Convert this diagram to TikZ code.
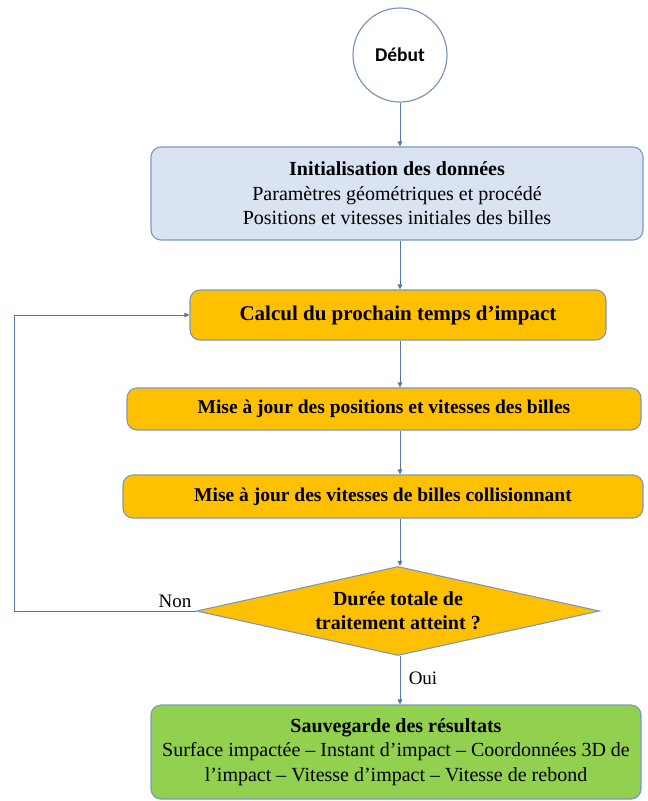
\documentclass[tikz,border=0pt]{standalone}
\usepackage{fontspec}
\setmainfont{Liberation Serif}
\newfontfamily\calib{Carlito}
\usetikzlibrary{shapes.geometric,arrows.meta}
\definecolor{lineblue}{HTML}{5577A8}
\definecolor{boxedge}{HTML}{7C98C0}
\definecolor{initfill}{HTML}{DAE3F1}
\definecolor{orangefill}{HTML}{FFC000}
\definecolor{greenfill}{HTML}{92D050}
\tikzset{
  arr/.style={draw=lineblue, line width=1pt, -{Triangle[length=5pt,width=4.5pt]}},
  box/.style={draw=boxedge, line width=1.1pt, rounded corners=10pt, align=center, inner sep=0pt},
  txt/.style={font=\fontsize{20}{24.5}\selectfont},
  lbl/.style={font=\fontsize{19}{22}\selectfont, inner sep=0pt}
}
\begin{document}
\begin{tikzpicture}[x=1pt,y=-1pt]
\useasboundingbox (0,0) rectangle (648,801);
\node[circle, draw=boxedge, line width=1.2pt, minimum size=94pt, fill=white,
      font=\calib\bfseries\fontsize{19.5}{22}\selectfont] (debut) at (400,55) {Début};
\node[box, fill=initfill, minimum width=492pt, minimum height=93pt, txt] (init) at (397,193.5)
  {\textbf{Initialisation\ des\ données}\\Paramètres\ géométriques\ et\ procédé\\Positions\ et\ vitesses\ initiales\ des\ billes};
\node[box, fill=orangefill, minimum width=416pt, minimum height=50pt,
      font=\bfseries\fontsize{21}{24}\selectfont] (calc) at (398,315) {Calcul du prochain temps d’impact};
\node[box, fill=orangefill, minimum width=514pt, minimum height=42pt,
      font=\bfseries\fontsize{19.5}{24}\selectfont] (maj1) at (384,409) {Mise à jour des positions et vitesses des billes};
\node[box, fill=orangefill, minimum width=520pt, minimum height=43pt,
      font=\bfseries\fontsize{19.5}{24}\selectfont] (maj2) at (383,496.5) {Mise à jour des vitesses de billes collisionnant};
\node[diamond, draw=boxedge, line width=1.1pt, fill=orangefill, aspect=4.5, inner sep=0pt,
      minimum width=403pt, minimum height=89pt, align=center,
      font=\bfseries\fontsize{20}{24}\selectfont] (test) at (398,611) {Durée\ totale\ de\\traitement\ atteint\ ?};
\node[box, fill=greenfill, minimum width=490pt, minimum height=94pt, txt] (save) at (396,752)
  {\textbf{Sauvegarde des résultats}\\Surface\ impactée -- Instant\ d’impact -- Coordonnées\ 3D\ de\\l’impact -- Vitesse\ d’impact -- Vitesse\ de\ rebond};
\coordinate (loopx) at (14,0);
\draw[arr] (debut.south) -- (debut.south |- init.north);
\draw[arr] (init.south -| debut.south) -- (debut.south |- calc.north);
\draw[arr] (calc.south -| debut.south) -- (debut.south |- maj1.north);
\draw[arr] (maj1.south -| debut.south) -- (debut.south |- maj2.north);
\draw[arr] (maj2.south -| debut.south) -- (debut.south |- test.north);
\draw[arr] (test.south -| debut.south) -- (debut.south |- save.north);
\draw[arr] (test.west) -- (test.west -| loopx) |- (calc.west);
\node[lbl] (non) at (175,601) {Non};
\node[lbl] (oui) at (423,678) {Oui};
\end{tikzpicture}
\end{document}
